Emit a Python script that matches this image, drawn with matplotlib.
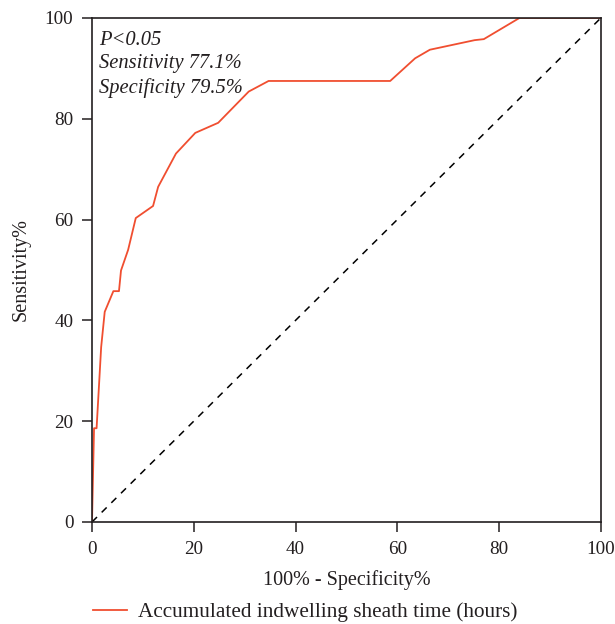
import matplotlib
matplotlib.use("Agg")
import matplotlib.pyplot as plt

# ROC curve points (100% - specificity, sensitivity)
fpr = [0, 0.4, 0.9, 1.8, 2.5, 4.2, 5.3, 5.7, 7.1, 8.6, 12.0, 13.0, 16.5,
       20.3, 24.8, 30.8, 34.7, 58.6, 63.5, 66.4, 75.2, 77.0, 84.0, 100]
tpr = [0, 18.6, 18.6, 34.7, 41.7, 45.8, 45.8, 49.9, 54.0, 60.3, 62.7, 66.5, 73.1,
       77.2, 79.2, 85.4, 87.5, 87.5, 92.0, 93.7, 95.6, 95.8, 100, 100]
ticks = [0, 20, 40, 60, 80, 100]
series_label = "Accumulated indwelling sheath time (hours)"
notes = ["P<0.05", "Sensitivity 77.1%", "Specificity 79.5%"]

plt.rcParams["font.family"] = ["Liberation Serif", "DejaVu Serif"]
text_col = "#231f20"

fig = plt.figure(figsize=(6.15, 6.24), dpi=100)
ax = fig.add_axes([0.1496, 0.1635, 0.8274, 0.8077])

ax.plot(fpr, tpr, color="#F04E30", linewidth=1.3, label=series_label)
ax.plot([0, 100], [0, 100], color="black", linestyle=(0, (4.6, 4.3)), linewidth=1.1)

ax.set_xlim(0, 100)
ax.set_ylim(0, 100)
ax.set_xticks(ticks)
ax.set_yticks(ticks)
ax.tick_params(direction="out", length=7.5, width=1.1, labelsize=13.8, pad=6,
               colors=text_col)
for sp in ax.spines.values():
    sp.set_linewidth(1.2)
    sp.set_color(text_col)

ax.set_xlabel("100% - Specificity%", fontsize=14.5, labelpad=9, color=text_col)
ax.set_ylabel("Sensitivity%", fontsize=14.5, labelpad=10, color=text_col)

ax.text(0.013, 0.975, "\n".join(notes), transform=ax.transAxes, va="top", ha="left",
        fontsize=14.8, style="italic", linespacing=1.32, color=text_col)

fig.legend(*ax.get_legend_handles_labels(), loc="center left",
           bbox_to_anchor=(93 / 615, 1 - 612 / 624), frameon=False,
           fontsize=15.3, handlelength=1.6, handletextpad=0.5,
           borderpad=0, borderaxespad=0, labelcolor=text_col)

fig.savefig("out.png", dpi=100)
